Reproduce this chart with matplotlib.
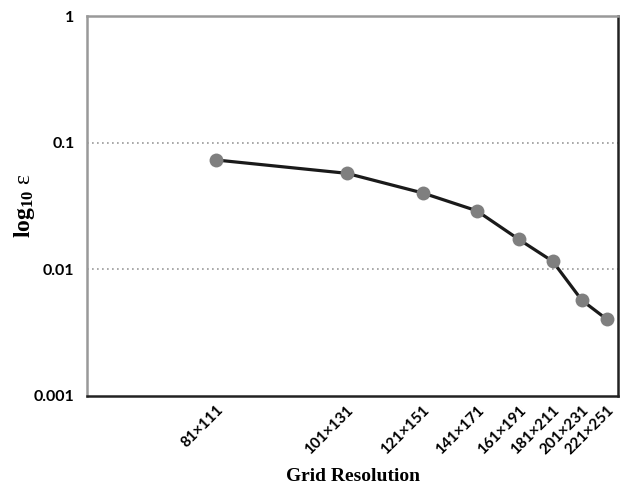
import numpy as np
import matplotlib.pyplot as plt
from matplotlib.ticker import FixedLocator, FixedFormatter, NullLocator

plt.rcParams['mathtext.fontset'] = 'custom'
plt.rcParams['mathtext.rm'] = 'Liberation Serif'
plt.rcParams['mathtext.bf'] = 'Liberation Serif:bold'
plt.rcParams['mathtext.it'] = 'Liberation Serif:italic'

# grid labels and their place along the axis (axis runs 0..100)
grids = ["81×111", "101×131", "121×151", "141×171", "161×191", "181×211", "201×231", "221×251"]
grid_x = [24.3, 48.9, 63.2, 73.4, 81.3, 87.7, 93.2, 97.9]
error = [0.073, 0.0573, 0.0401, 0.0290, 0.01726, 0.01156, 0.00569, 0.00403]

y_ticks = [0.001, 0.01, 0.1, 1]
y_labels = ["0.001", "0.01", "0.1", "1"]

fig = plt.figure(figsize=(6.22, 4.93), dpi=100)
ax = fig.add_axes([0.1399, 0.1968, 0.8537, 0.7707])

ax.plot(grid_x, error, "-", color="#1a1a1a", linewidth=2.3, zorder=3)
ax.plot(grid_x, error, "o", color="#7f7f7f", markersize=10, markeredgewidth=0, zorder=4)

ax.set_yscale("log")
ax.set_ylim(0.001, 1)
ax.set_xlim(0, 100)

ax.yaxis.set_major_locator(FixedLocator(y_ticks))
ax.yaxis.set_major_formatter(FixedFormatter(y_labels))
ax.yaxis.set_minor_locator(NullLocator())
ax.set_xticks(grid_x)
ax.set_xticklabels(grids, rotation=45, ha="right", va="top", rotation_mode="anchor",
                   fontfamily="Lato", fontweight="bold", fontsize=11)
for lab in ax.get_yticklabels():
    lab.set_fontfamily("Lato")
    lab.set_fontweight("bold")
    lab.set_fontsize(11.5)
ax.tick_params(axis="both", length=0)
ax.tick_params(axis="y", pad=9)
ax.tick_params(axis="x", pad=5)

for v in [0.01, 0.1]:
    ax.axhline(v, color="#999999", linestyle=(0, (1, 2)), linewidth=1.2, zorder=1)

ax.spines["left"].set_color("#999999")
ax.spines["top"].set_color("#999999")
ax.spines["bottom"].set_color("#222222")
ax.spines["right"].set_color("#222222")
for s in ax.spines.values():
    s.set_linewidth(1.8)

ax.set_xlabel("Grid Resolution", fontfamily="Liberation Serif", fontweight="bold", fontsize=14)
ax.xaxis.set_label_coords(0.5, -0.19)
ax.set_ylabel(r"$\mathbf{log_{10}}\ \mathrm{ε}$", fontsize=17)
ax.yaxis.set_label_coords(-0.094, 0.5)

plt.savefig("out.png", dpi=100)
